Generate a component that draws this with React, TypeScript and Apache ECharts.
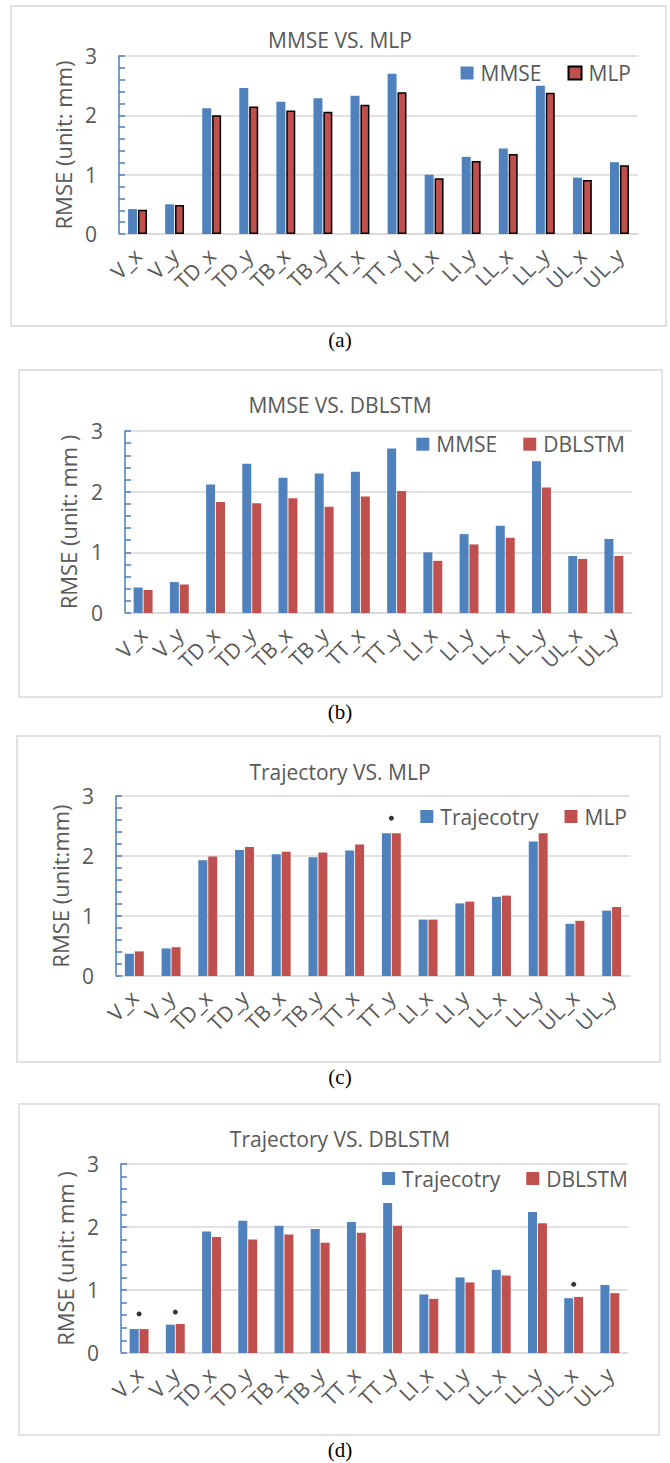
import React, { useEffect, useRef } from 'react';
import * as echarts from 'echarts';

const categories = ['V_x', 'V_y', 'TD_x', 'TD_y', 'TB_x', 'TB_y', 'TT_x', 'TT_y', 'LI_x', 'LI_y', 'LL_x', 'LL_y', 'UL_x', 'UL_y'];
const yTicks = [0, 1, 2, 3];

const mmseA = [0.42, 0.5, 2.12, 2.46, 2.23, 2.29, 2.33, 2.7, 1.0, 1.3, 1.44, 2.5, 0.95, 1.21];
const mlpA = [0.41, 0.49, 2.0, 2.15, 2.08, 2.06, 2.18, 2.39, 0.94, 1.23, 1.35, 2.38, 0.91, 1.16];
const mmseB = [0.42, 0.51, 2.12, 2.46, 2.23, 2.3, 2.33, 2.71, 1.0, 1.3, 1.44, 2.5, 0.94, 1.22];
const dblstmB = [0.38, 0.47, 1.83, 1.81, 1.89, 1.75, 1.92, 2.01, 0.86, 1.13, 1.24, 2.07, 0.89, 0.94];
const trajC = [0.37, 0.46, 1.93, 2.1, 2.03, 1.98, 2.09, 2.38, 0.94, 1.21, 1.32, 2.24, 0.87, 1.09];
const mlpC = [0.41, 0.48, 1.99, 2.15, 2.07, 2.06, 2.19, 2.38, 0.94, 1.24, 1.34, 2.38, 0.92, 1.15];
const trajD = [0.38, 0.45, 1.93, 2.1, 2.02, 1.97, 2.08, 2.38, 0.93, 1.2, 1.32, 2.24, 0.87, 1.08];
const dblstmD = [0.38, 0.46, 1.84, 1.8, 1.88, 1.75, 1.91, 2.02, 0.86, 1.12, 1.23, 2.06, 0.89, 0.95];
const marksC: [string, number][] = [['TT_y', 2.63]];
const marksD: [string, number][] = [['V_x', 0.62], ['V_y', 0.65], ['UL_x', 1.09]];

const BLUE = '#4f81bd';
const RED = '#c0504d';
const TXT = '#595959';
const GRID = '#d9d9d9';
const AXIS = '#4a7ebb';
const FONT = '"Open Sans", sans-serif';

type Panel = {
  title: string;
  yName: string;
  n1: string;
  d1: number[];
  n2: string;
  d2: number[];
  border: boolean;
  marks: [string, number][];
  frame: [number, number, number, number];
  grid: { left: number; top: number; width: number; height: number };
  titleY: number;
  legendRight: number;
  legendY: number;
  caption: string;
  captionY: number;
  yNameGap: number;
};

const panels: Panel[] = [
  {
    title: 'MMSE VS. MLP', yName: 'RMSE (unit: mm)', n1: 'MMSE', d1: mmseA, n2: 'MLP', d2: mlpA, border: true, marks: [],
    frame: [11, 6, 655, 320], grid: { left: 119, top: 56, width: 519, height: 178 },
    titleY: 41, legendRight: 39, legendY: 73.5, caption: '(a)', captionY: 340, yNameGap: 44,
  },
  {
    title: 'MMSE VS. DBLSTM', yName: 'RMSE (unit: mm )', n1: 'MMSE', d1: mmseB, n2: 'DBLSTM', d2: dblstmB, border: false, marks: [],
    frame: [19, 370, 643, 327], grid: { left: 125, top: 431, width: 507, height: 182 },
    titleY: 406, legendRight: 45, legendY: 444.7, caption: '(b)', captionY: 712, yNameGap: 46,
  },
  {
    title: 'Trajectory VS. MLP', yName: 'RMSE (unit:mm)', n1: 'Trajecotry', d1: trajC, n2: 'MLP', d2: mlpC, border: false, marks: marksC,
    frame: [17, 736, 643, 326], grid: { left: 116, top: 796, width: 514, height: 180 },
    titleY: 773, legendRight: 43, legendY: 817, caption: '(c)', captionY: 1077, yNameGap: 45,
  },
  {
    title: 'Trajectory VS. DBLSTM', yName: 'RMSE (unit: mm )', n1: 'Trajecotry', d1: trajD, n2: 'DBLSTM', d2: dblstmD, border: false, marks: marksD,
    frame: [19, 1104, 640, 331], grid: { left: 121, top: 1164, width: 507, height: 189 },
    titleY: 1140, legendRight: 42, legendY: 1179, caption: '(d)', captionY: 1450, yNameGap: 45,
  },
];

function buildOption(p: Panel) {
  return {
    animation: false,
    textStyle: { fontFamily: FONT },
    title: {
      text: p.title, left: 340, textAlign: 'center', top: p.titleY - 12, padding: 0,
      textStyle: { fontSize: 21, fontWeight: 'normal', color: TXT, fontFamily: FONT },
    },
    legend: {
      data: [p.n1, p.n2], right: p.legendRight, top: p.legendY - 11, padding: 0,
      icon: 'rect', itemWidth: 13, itemHeight: 13, itemGap: 26,
      textStyle: { fontSize: 21, color: TXT, fontFamily: FONT, padding: [0, 0, 0, 2] },
    },
    grid: { ...p.grid, containLabel: false },
    xAxis: {
      type: 'category', data: categories,
      axisLine: { show: true, lineStyle: { color: GRID, width: 1.5 } },
      axisTick: { show: false },
      axisLabel: {
        interval: 0, rotate: 45, fontSize: 21, color: TXT, margin: 18, fontFamily: FONT,
        padding: [30, 0, 0, 0],
      },
    },
    yAxis: {
      type: 'value', min: yTicks[0], max: yTicks[yTicks.length - 1], interval: 1,
      name: p.yName, nameLocation: 'middle', nameGap: p.yNameGap,
      nameTextStyle: { fontSize: 22, color: TXT, fontFamily: FONT },
      axisLine: { show: true, lineStyle: { color: AXIS, width: 1.5 } },
      axisTick: { show: true, inside: true, length: 6, lineStyle: { color: AXIS, width: 1.5 } },
      minorTick: { show: true, splitNumber: 5, length: 6, lineStyle: { color: AXIS, width: 1.5 } },
      splitLine: { show: true, lineStyle: { color: GRID, width: 1.5 } },
      axisLabel: { fontSize: 21, color: TXT, margin: 22, fontFamily: FONT },
    },
    series: [
      {
        name: p.n1, type: 'bar', data: p.d1, barWidth: 9, barGap: '10%',
        itemStyle: { color: BLUE },
      },
      {
        name: p.n2, type: 'bar', data: p.d2, barWidth: 9, barGap: '10%',
        itemStyle: p.border ? { color: RED, borderColor: '#000', borderWidth: 1.5 } : { color: RED },
      },
      {
        name: 'mark', type: 'scatter', data: p.marks, symbol: 'circle', symbolSize: 5,
        itemStyle: { color: '#000' }, z: 5,
      },
    ],
    graphic: [
      {
        type: 'rect', silent: true,
        shape: { x: p.frame[0], y: p.frame[1], width: p.frame[2], height: p.frame[3] },
        style: { fill: 'none', stroke: GRID, lineWidth: 1.5 },
      },
      {
        type: 'text', silent: true,
        style: {
          text: p.caption, x: 340, y: p.captionY, textAlign: 'center', textVerticalAlign: 'middle',
          font: '21px "Liberation Serif", "Times New Roman", serif', fill: '#000',
        },
      },
    ],
  };
}

function ChartPanel({ p }: { p: Panel }) {
  const ref = useRef<HTMLDivElement>(null);
  useEffect(() => {
    if (!ref.current) return;
    const chart = echarts.init(ref.current, undefined, { renderer: 'svg' });
    chart.setOption(buildOption(p) as any);
    return () => chart.dispose();
  }, [p]);
  return <div ref={ref} style={{ position: 'absolute', left: 0, top: 0, width: 670, height: 1463 }} />;
}

export default function App() {
  return (
    <div style={{ position: 'absolute', left: 0, top: 0, width: 670, height: 1463, background: '#fff' }}>
      {panels.map((p) => (
        <ChartPanel key={p.caption} p={p} />
      ))}
    </div>
  );
}
